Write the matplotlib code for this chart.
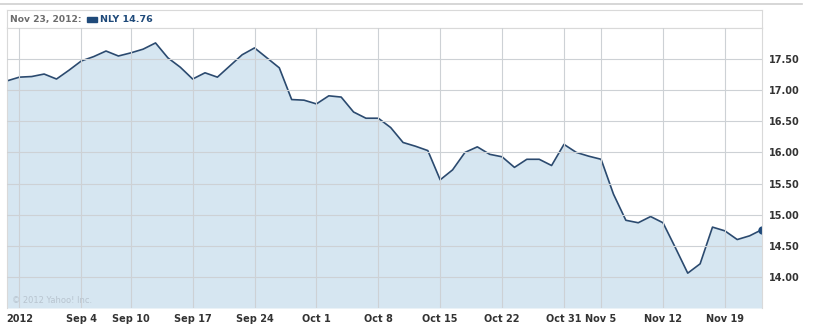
import numpy as np
import matplotlib.pyplot as plt
from matplotlib.patches import Rectangle

#####################################################
# data (NLY daily close, Aug 24 - Nov 23 2012)
#####################################################

closes = [
    17.15, 17.21, 17.22, 17.26, 17.18, 17.32, 17.47, 17.54, 17.63, 17.55,
    17.60, 17.66, 17.76, 17.52, 17.37, 17.18, 17.28, 17.21, 17.39, 17.57,
    17.68, 17.52, 17.36, 16.85, 16.84, 16.78, 16.91, 16.89, 16.65, 16.55,
    16.55, 16.40, 16.16, 16.10, 16.03, 15.56, 15.72, 16.00, 16.09, 15.97,
    15.93, 15.76, 15.89, 15.89, 15.79, 16.13, 16.00, 15.94, 15.89, 15.33,
    14.91, 14.87, 14.97, 14.87, 14.47, 14.06, 14.21, 14.80, 14.74, 14.60,
    14.66, 14.76,
]
tick_idx = [1, 6, 10, 15, 20, 25, 30, 35, 40, 45, 48, 53, 58]
tick_labels = ["2012", "Sep 4", "Sep 10", "Sep 17", "Sep 24", "Oct 1", "Oct 8",
               "Oct 15", "Oct 22", "Oct 31", "Nov 5", "Nov 12", "Nov 19"]
y_ticks = [14.0, 14.5, 15.0, 15.5, 16.0, 16.5, 17.0, 17.5]

header_date = "Nov 23, 2012:"
header_series = "NLY 14.76"

#####################################################
# plot
#####################################################

W, H = 813, 325
line_col = "#2b4a6f"
fill_col = "#d6e6f1"
grid_col = "#cdd1d5"
text_col = "#333333"
fsize = 7

fig = plt.figure(figsize=(W / 100, H / 100), dpi=100)
fig.patch.set_facecolor("white")

# top rule
fig.add_artist(plt.Line2D([0, 802 / W], [1 - 4 / H, 1 - 4 / H],
                          color="#cfcfcf", linewidth=1.2))

# header box
hx0, hx1, hy0, hy1 = 7, 762, 10, 28
hax = fig.add_axes([hx0 / W, 1 - hy1 / H, (hx1 - hx0) / W, (hy1 - hy0) / H])
hax.set_xticks([])
hax.set_yticks([])
for s in hax.spines.values():
    s.set_color("#d9d9d9")
hax.set_xlim(0, hx1 - hx0)
hax.set_ylim(0, 1)
hax.text(3, 0.48, header_date, color="#6b6b6b", fontsize=6.6,
         fontweight="bold", va="center", ha="left")
hax.add_patch(Rectangle((80, 0.36), 10, 0.26, color="#1f4a7a"))
hax.text(93, 0.48, header_series, color="#1f4a7a", fontsize=6.8,
         fontweight="bold", va="center", ha="left")

# main chart
px0, px1, py0, py1 = 7, 762, 28, 308
ax = fig.add_axes([px0 / W, 1 - py1 / H, (px1 - px0) / W, (py1 - py0) / H])
x = np.arange(len(closes))
ax.fill_between(x, closes, 13.5, color=fill_col, linewidth=0)
ax.plot(x, closes, color=line_col, linewidth=1.2)
ax.plot(x[-1], closes[-1], "o", color="#1f4a7a", markersize=5)

ax.set_xlim(0, len(closes) - 1)
ax.set_ylim(13.5, 18.0)
ax.set_xticks(tick_idx)
ax.set_xticklabels(tick_labels)
ax.set_yticks(y_ticks)
ax.set_yticklabels([f"{v:.2f}" for v in y_ticks])
ax.yaxis.tick_right()
ax.tick_params(axis="both", length=0, labelsize=fsize, labelcolor=text_col)
ax.tick_params(axis="x", pad=4)
ax.tick_params(axis="y", pad=5)
for lab in ax.get_xticklabels() + ax.get_yticklabels():
    lab.set_fontweight("bold")

ax.grid(color=grid_col, linewidth=0.8)
ax.set_axisbelow(False)
for s in ax.spines.values():
    s.set_color("#d9d9d9")
ax.spines["bottom"].set_visible(False)

ax.text(0.006, 0.012, "© 2012 Yahoo! Inc.", transform=ax.transAxes,
        fontsize=6, color="#b8c4cf", ha="left", va="bottom")

plt.savefig("out.png", dpi=100)
plt.close()
